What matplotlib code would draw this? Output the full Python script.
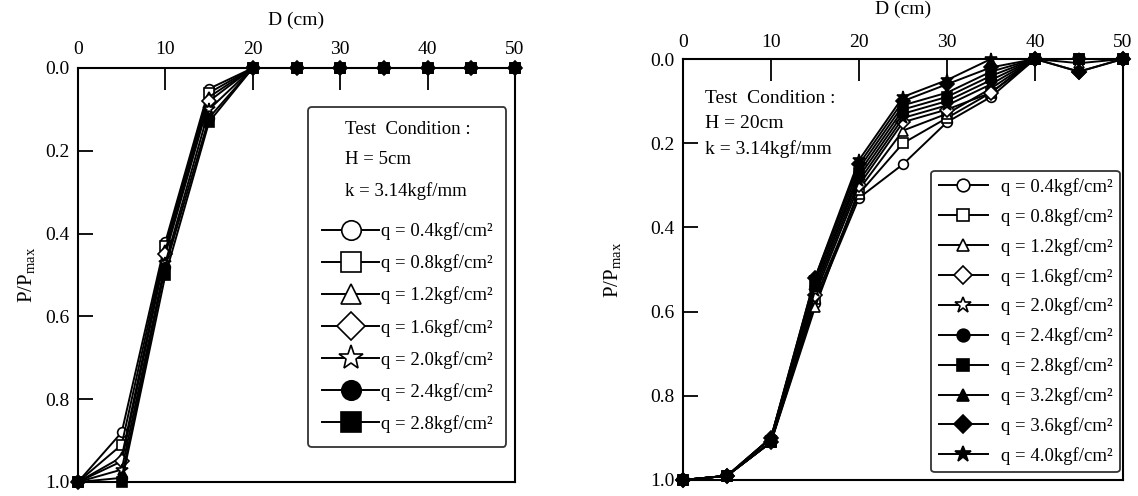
import matplotlib
matplotlib.use("Agg")
import matplotlib.pyplot as plt

plt.rcParams['font.family'] = ['Liberation Serif', 'DejaVu Serif']
plt.rcParams['mathtext.fontset'] = 'custom'
plt.rcParams['mathtext.rm'] = 'Liberation Serif'
plt.rcParams['mathtext.it'] = 'Liberation Serif'

# D (cm) positions for both tests
d_cm = [0, 5, 10, 15, 20, 25, 30, 35, 40, 45, 50]

# H = 5cm test
q_left = ["0.4", "0.8", "1.2", "1.6", "2.0", "2.4", "2.8"]
p_left = [
    [1.0, 0.88, 0.42, 0.05, 0.0, 0.0, 0.0, 0.0, 0.0, 0.0, 0.0],
    [1.0, 0.91, 0.43, 0.06, 0.0, 0.0, 0.0, 0.0, 0.0, 0.0, 0.0],
    [1.0, 0.94, 0.44, 0.07, 0.0, 0.0, 0.0, 0.0, 0.0, 0.0, 0.0],
    [1.0, 0.95, 0.45, 0.08, 0.0, 0.0, 0.0, 0.0, 0.0, 0.0, 0.0],
    [1.0, 0.97, 0.47, 0.10, 0.0, 0.0, 0.0, 0.0, 0.0, 0.0, 0.0],
    [1.0, 0.99, 0.48, 0.12, 0.0, 0.0, 0.0, 0.0, 0.0, 0.0, 0.0],
    [1.0, 1.00, 0.50, 0.13, 0.0, 0.0, 0.0, 0.0, 0.0, 0.0, 0.0],
]

# H = 20cm test
q_right = ["0.4", "0.8", "1.2", "1.6", "2.0", "2.4", "2.8", "3.2", "3.6", "4.0"]
p_right = [
    [1.0, 0.99, 0.91, 0.58, 0.33, 0.25, 0.15, 0.09, 0.0, 0.0, 0.0],
    [1.0, 0.99, 0.91, 0.57, 0.32, 0.20, 0.14, 0.08, 0.0, 0.0, 0.0],
    [1.0, 0.99, 0.91, 0.59, 0.31, 0.17, 0.13, 0.07, 0.0, 0.01, 0.0],
    [1.0, 0.99, 0.91, 0.56, 0.30, 0.15, 0.12, 0.08, 0.0, 0.03, 0.0],
    [1.0, 0.99, 0.91, 0.55, 0.29, 0.14, 0.11, 0.06, 0.0, 0.0, 0.0],
    [1.0, 0.99, 0.90, 0.54, 0.28, 0.13, 0.10, 0.05, 0.0, 0.0, 0.0],
    [1.0, 0.99, 0.91, 0.54, 0.27, 0.12, 0.09, 0.04, 0.0, 0.0, 0.0],
    [1.0, 0.99, 0.90, 0.53, 0.26, 0.11, 0.08, 0.03, 0.0, 0.0, 0.0],
    [1.0, 0.99, 0.90, 0.52, 0.25, 0.10, 0.06, 0.02, 0.0, 0.03, 0.0],
    [1.0, 0.99, 0.90, 0.52, 0.24, 0.09, 0.05, 0.0, 0.0, 0.0, 0.0],
]

# marker, filled?
styles = [("o", False), ("s", False), ("^", False), ("D", False), ("*", False),
          ("o", True), ("s", True), ("^", True), ("D", True), ("*", True)]


def setup_axes(ax, pad, xlpad, ylpad):
    ax.set_xlim(0, 50)
    ax.set_ylim(1.0, 0.0)
    ax.set_xticks([0, 10, 20, 30, 40, 50])
    ax.set_yticks([0.0, 0.2, 0.4, 0.6, 0.8, 1.0])
    ax.set_yticklabels(["0.0", "0.2", "0.4", "0.6", "0.8", "1.0"])
    ax.xaxis.tick_top()
    ax.xaxis.set_label_position("top")
    ax.tick_params(axis="x", direction="in", length=16, width=1.3,
                   labelsize=14, pad=pad)
    ax.tick_params(axis="y", direction="in", length=11, width=1.3,
                   labelsize=14, pad=6)
    for s in ax.spines.values():
        s.set_linewidth(1.5)
    ax.set_xlabel("D (cm)", fontsize=14, labelpad=xlpad)
    ax.set_ylabel(r"P/P$_{\rm max}$", fontsize=15, labelpad=ylpad)


def draw(ax, q, p, ms):
    for i in range(len(q)):
        mk, filled = styles[i]
        size = ms * 1.3 if mk == "*" else ms
        ax.plot(d_cm, p[i], color="black", lw=1.4, marker=mk, ms=size,
                mfc="black" if filled else "white", mec="black", mew=1.2,
                label="q = " + q[i] + "kgf/cm²", clip_on=False, zorder=3)


fig = plt.figure(figsize=(11.38, 4.96), dpi=100)

ax1 = fig.add_axes([78 / 1138, 14 / 496, 437 / 1138, 414 / 496])
draw(ax1, q_left, p_left, 7)
setup_axes(ax1, 7, 12, 6)
leg1 = ax1.legend(loc="upper right", bbox_to_anchor=(0.98, 0.905),
                  borderaxespad=0, fontsize=13.5, markerscale=2.0,
                  handlelength=3.0, handletextpad=0.1, labelspacing=0.76,
                  borderpad=0.75, frameon=True, fancybox=True,
                  edgecolor="black",
                  title="Test  Condition :\nH = 5cm\nk = 3.14kgf/mm",
                  title_fontsize=13.5)
leg1.get_title().set_linespacing(2.0)
leg1._legend_box.sep = 16  # extra gap under the test conditions
leg1.get_frame().set_linewidth(1.3)

ax2 = fig.add_axes([683 / 1138, 16 / 496, 440 / 1138, 421 / 496])
draw(ax2, q_right, p_right, 7)
setup_axes(ax2, 6, 14, 20)
ax2.text(0.05, 0.927, "Test  Condition :\nH = 20cm\nk = 3.14kgf/mm",
         transform=ax2.transAxes, fontsize=14, va="top", ha="left",
         linespacing=1.6)
leg2 = ax2.legend(loc="upper right", bbox_to_anchor=(0.993, 0.735),
                  borderaxespad=0, fontsize=13.5, markerscale=1.3,
                  handlelength=2.6, handletextpad=0.7, labelspacing=0.64,
                  frameon=True, fancybox=True, edgecolor="black")
leg2.get_frame().set_linewidth(1.3)

fig.savefig("out.png", dpi=100, facecolor="white")
